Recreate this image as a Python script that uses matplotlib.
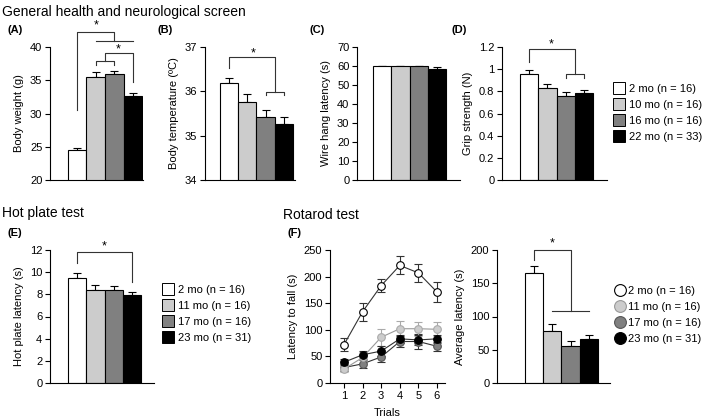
import numpy as np
import matplotlib
matplotlib.use("Agg")
import matplotlib.pyplot as plt
from matplotlib.lines import Line2D

plt.rcParams['font.family'] = ['Liberation Sans', 'DejaVu Sans']
plt.rcParams['font.size'] = 8

W, H = 709, 420

bar_colors = ['white', '#cccccc', '#808080', 'black']
groups_top = ['2 mo (n = 16)', '10 mo (n = 16)', '16 mo (n = 16)', '22 mo (n = 33)']
groups_bot = ['2 mo (n = 16)', '11 mo (n = 16)', '17 mo (n = 16)', '23 mo (n = 31)']

weight = [24.5, 35.5, 36.0, 32.7]
weight_err = [0.3, 0.8, 0.4, 0.4]
temp = [36.18, 35.76, 35.42, 35.26]
temp_err = [0.12, 0.18, 0.15, 0.15]
hang = [60, 60, 60, 58.3]
hang_err = [0, 0, 0, 1.3]
grip = [0.96, 0.83, 0.76, 0.785]
grip_err = [0.03, 0.04, 0.03, 0.03]
hotplate = [9.5, 8.35, 8.4, 7.95]
hotplate_err = [0.45, 0.45, 0.35, 0.3]
rot_avg = [165, 78, 56, 66]
rot_avg_err = [11, 11, 7, 6]

trials = [1, 2, 3, 4, 5, 6]
rot_2 = [72, 134, 183, 221, 207, 171]
rot_2_err = [12, 17, 12, 17, 17, 18]
rot_11 = [26, 48, 86, 102, 102, 101]
rot_11_err = [6, 10, 16, 15, 13, 13]
rot_17 = [29, 36, 49, 78, 78, 69]
rot_17_err = [6, 7, 10, 10, 15, 8]
rot_23 = [39, 53, 60, 83, 81, 83]
rot_23_err = [6, 8, 10, 8, 10, 8]


def add_ax(left, top, right, bottom):
    return fig.add_axes([left / W, 1 - bottom / H, (right - left) / W, (bottom - top) / H])


def style(ax):
    for s in ['top', 'right']:
        ax.spines[s].set_visible(False)
    for s in ['left', 'bottom']:
        ax.spines[s].set_linewidth(0.8)
    ax.tick_params(axis='y', length=3.5, width=0.8, pad=2, labelsize=8)
    ax.tick_params(axis='x', length=0)


def bar_panel(ax, vals, errs, xlim, ylim, yticks, ylabel, fmt=None):
    x = np.arange(len(vals))
    ax.bar(x, vals, width=1.0, color=bar_colors, edgecolor='black', linewidth=0.8, zorder=2)
    ax.errorbar(x, vals, yerr=[np.zeros(len(errs)), errs], fmt='none', ecolor='black',
                elinewidth=0.8, capsize=3, capthick=0.8, zorder=1)
    ax.set_xlim(*xlim)
    ax.set_ylim(*ylim)
    ax.set_yticks(yticks)
    if fmt:
        ax.set_yticklabels([fmt(v) for v in yticks])
    ax.set_xticks([])
    ax.set_ylabel(ylabel, fontsize=8, labelpad=4)
    style(ax)


def path(ax, xs, ys, color='#333333'):
    ax.plot(xs, ys, color=color, lw=0.8, clip_on=False, zorder=3)


def star(ax, x, y):
    ax.text(x, y, '*', ha='center', va='center', fontsize=9, clip_on=False)


fig = plt.figure(figsize=(W / 100, H / 100), dpi=100)

fig.text(2 / W, 1 - 12 / H, 'General health and neurological screen', fontsize=10, va='center')
fig.text(2 / W, 1 - 213 / H, 'Hot plate test', fontsize=10, va='center')
fig.text(283 / W, 1 - 215 / H, 'Rotarod test', fontsize=10, va='center')
for lbl, x, y in [('(A)', 7, 30), ('(B)', 158, 30), ('(C)', 310, 30), ('(D)', 452, 30),
                  ('(E)', 7, 233), ('(F)', 287, 233)]:
    fig.text(x / W, 1 - y / H, lbl, fontsize=8, fontweight='bold', va='center')

# (A)
axA = add_ax(50, 47, 143, 180)
bar_panel(axA, weight, weight_err, (-1.47, 3.55), (20, 40), [20, 25, 30, 35, 40], 'Body weight (g)')
path(axA, [0, 0, 2, 2], [30.5, 42.2, 42.2, 40.85])
path(axA, [1, 3], [40.85, 40.85])
star(axA, 1, 43.2)
path(axA, [1, 1, 2, 2], [37.25, 37.85, 37.85, 37.25])
path(axA, [1.5, 1.5, 3, 3], [37.85, 39.05, 39.05, 34.7])
star(axA, 2.2, 39.7)

# (B)
axB = add_ax(205, 47, 295, 180)
bar_panel(axB, temp, temp_err, (-1.32, 3.61), (34, 37), [34, 35, 36, 37], 'Body temperature (\u00baC)')
path(axB, [0, 0, 2.5, 2.5], [36.53, 36.77, 36.77, 35.98])
path(axB, [2, 2, 3, 3], [35.92, 35.98, 35.98, 35.92])
star(axB, 1.3, 36.86)

# (C)
axC = add_ax(357, 47, 460, 180)
bar_panel(axC, hang, hang_err, (-1.38, 4.27), (0, 70), list(range(0, 71, 10)), 'Wire hang latency (s)')

# (D)
axD = add_ax(502, 47, 607, 180)
bar_panel(axD, grip, grip_err, (-1.49, 4.27), (0, 1.2), [0, 0.2, 0.4, 0.6, 0.8, 1.0, 1.2],
          'Grip strength (N)', fmt=lambda v: f'{v:g}')
path(axD, [0, 0, 2.5, 2.5], [1.065, 1.182, 1.182, 0.956])
path(axD, [2, 2, 3, 3], [0.92, 0.956, 0.956, 0.92])
star(axD, 1.2, 1.22)

legend_kw = dict(loc='upper left', frameon=False, fontsize=8, handlelength=1.0,
                 labelspacing=0.55, borderpad=0, borderaxespad=0)

sq = [Line2D([], [], ls='none', marker='s', markersize=8, markerfacecolor=c,
             markeredgecolor='black', markeredgewidth=0.7) for c in bar_colors]
fig.legend(sq, groups_top, bbox_to_anchor=(613 / W, 1 - 84 / H), handletextpad=0.4, **legend_kw)

# (E)
axE = add_ax(50, 250, 154, 383)
bar_panel(axE, hotplate, hotplate_err, (-1.49, 4.21), (0, 12), [0, 2, 4, 6, 8, 10, 12], 'Hot plate latency (s)')
path(axE, [0, 0, 3, 3], [10.8, 11.8, 11.8, 9.1])
star(axE, 1.5, 12.3)
fig.legend(sq, groups_bot, bbox_to_anchor=(162 / W, 1 - 285 / H), handletextpad=0.4, **legend_kw)

# (F) line
axF = add_ax(330, 250, 445, 383)
series = [(rot_17, rot_17_err, '#808080', '#555555', '#333333', '#333333'),
          (rot_11, rot_11_err, '#cccccc', '#aaaaaa', '#999999', '#aaaaaa'),
          (rot_23, rot_23_err, 'black', 'black', '#333333', '#333333'),
          (rot_2, rot_2_err, 'white', 'black', '#333333', '#333333')]
for vals, errs, fc, ec, lc, erc in series:
    axF.errorbar(trials, vals, yerr=errs, color=lc, lw=0.8, ecolor=erc,
                 elinewidth=0.8, capsize=3, capthick=0.8, marker='o', markersize=5.5,
                 markerfacecolor=fc, markeredgecolor=ec, markeredgewidth=0.8)
axF.set_xlim(0.25, 6.43)
axF.set_ylim(0, 250)
axF.set_yticks([0, 50, 100, 150, 200, 250])
axF.set_xticks(trials)
axF.set_ylabel('Latency to fall (s)', fontsize=8, labelpad=4)
axF.set_xlabel('Trials', fontsize=8, labelpad=5)
style(axF)
axF.tick_params(axis='x', length=3.5, width=0.8, pad=2, labelsize=8)

# (F) average
axG = add_ax(497, 250, 610, 383)
bar_panel(axG, rot_avg, rot_avg_err, (-2.03, 4.16), (0, 200), [0, 50, 100, 150, 200], 'Average latency (s)')
path(axG, [0, 0, 2, 2], [185, 200, 200, 108])
path(axG, [1, 3], [108, 108])
star(axG, 1, 210)

circ = [Line2D([], [], ls='none', marker='o', markersize=8.5, markerfacecolor=fc,
               markeredgecolor=ec, markeredgewidth=0.8)
        for fc, ec in [('white', 'black'), ('#cccccc', '#999999'), ('#808080', '#555555'), ('black', 'black')]]
fig.legend(circ, groups_bot, bbox_to_anchor=(614 / W, 1 - 286 / H), handletextpad=0.3, **legend_kw)

fig.savefig('out.png', dpi=100)
